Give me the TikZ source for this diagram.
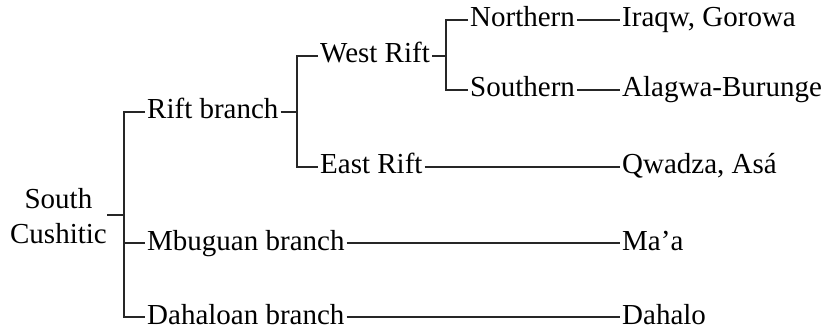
\documentclass[tikz,border=0pt]{standalone}
\usepackage{fontspec}
\setmainfont{Liberation Serif}
\begin{document}
\begin{tikzpicture}[x=1pt,y=-1pt,
  lbl/.style={inner xsep=2pt, inner ysep=0pt, text height=20pt, text depth=6pt,
              font=\fontsize{29}{35}\selectfont},
  tree/.style={line width=1.1pt, draw=black!85}]
\useasboundingbox (0,0) rectangle (827,331);
% root
\node[align=center, inner sep=0pt, font=\fontsize{29}{35}\selectfont, anchor=east] (root) at (107,216) {South\\Cushitic};
% level 1
\node[lbl, anchor=west] (rift)  at (145,112) {Rift branch};
\node[lbl, anchor=west] (mbug)  at (145,243) {Mbuguan branch};
\node[lbl, anchor=west] (dahb)  at (145,317) {Dahaloan branch};
% level 2
\node[lbl, anchor=west] (west)  at (318,56)  {West Rift};
\node[lbl, anchor=west] (east)  at (318,167) {East Rift};
% level 3
\node[lbl, anchor=west] (north) at (468,20)  {Northern};
\node[lbl, anchor=west] (south) at (468,90)  {Southern};
% leaves
\node[lbl, anchor=west] (iraqw) at (620,20)  {Iraqw, Gorowa};
\node[lbl, anchor=west] (alag)  at (620,90)  {Alagwa-Burunge};
\node[lbl, anchor=west] (qwad)  at (620,167) {Qwadza, Asá};
\node[lbl, anchor=west] (maa)   at (620,243) {Ma’a};
\node[lbl, anchor=west] (dah)   at (620,317) {Dahalo};
% junctions
\coordinate (j1) at (124,215);
\coordinate (j2) at (297,112);
\coordinate (j3) at (446,56);
% connectors
\draw[tree] (root.east |- j1) -- (j1);
\draw[tree] (rift.west) -- (rift.west -| j1) -- (dahb.west -| j1) -- (dahb.west);
\draw[tree] (mbug.west -| j1) -- (mbug.west);
\draw[tree] (rift.east) -- (rift.east -| j2);
\draw[tree] (west.west) -- (west.west -| j2) -- (east.west -| j2) -- (east.west);
\draw[tree] (west.east) -- (west.east -| j3);
\draw[tree] (north.west) -- (north.west -| j3) -- (south.west -| j3) -- (south.west);
\draw[tree] (north.east) -- (iraqw.west);
\draw[tree] (south.east) -- (alag.west);
\draw[tree] (east.east) -- (qwad.west);
\draw[tree] (mbug.east) -- (maa.west);
\draw[tree] (dahb.east) -- (dah.west);
\end{tikzpicture}
\end{document}
